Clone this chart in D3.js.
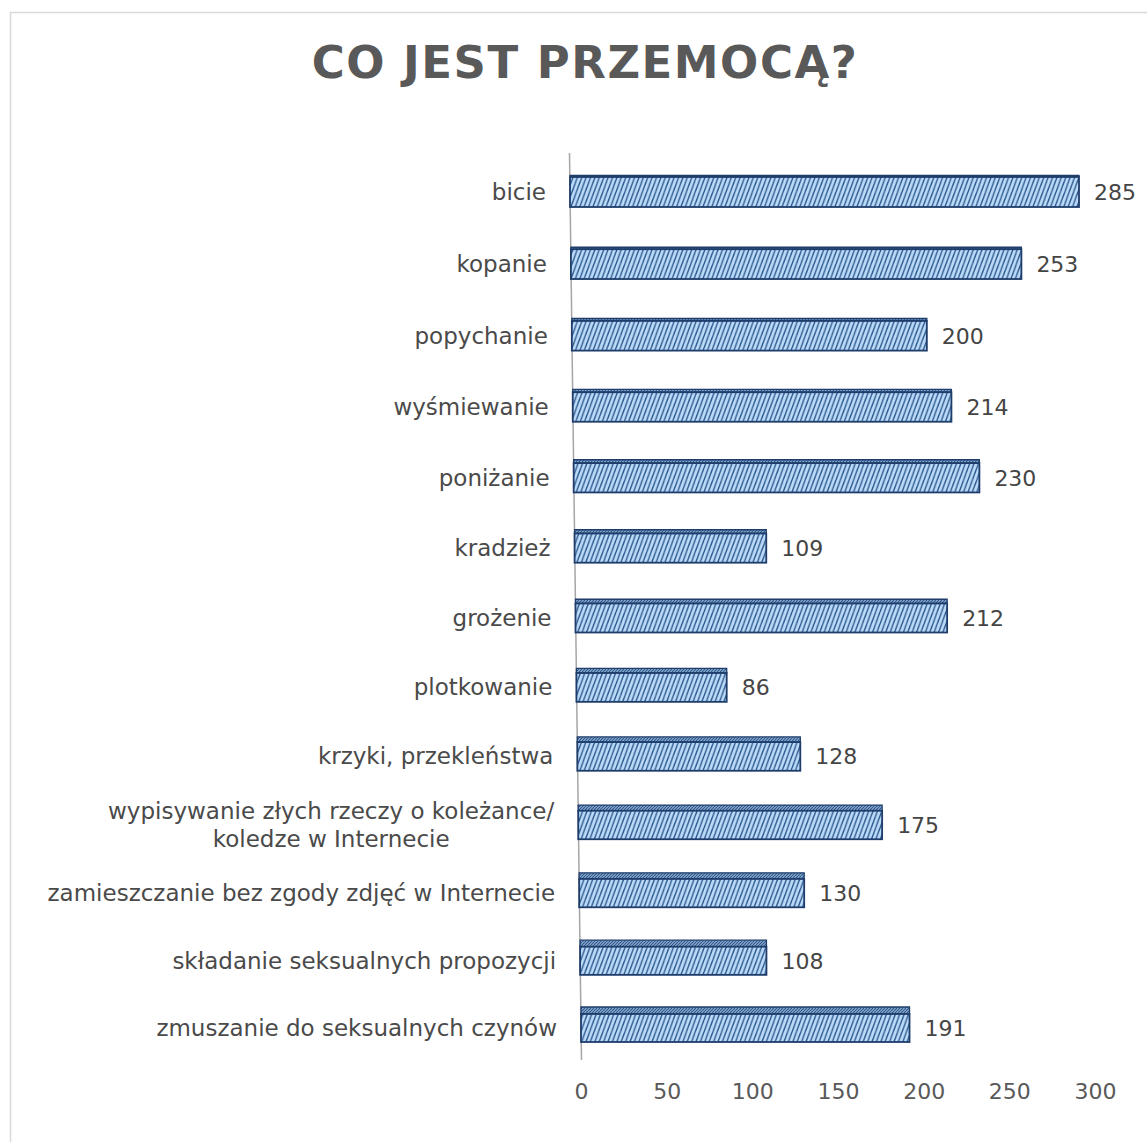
<!DOCTYPE html>
<html>
<head>
<meta charset="utf-8">
<script src="https://cdn.jsdelivr.net/npm/d3@7"></script>
<style>
  html, body { margin: 0; padding: 0; background: #fff; }
  svg { display: block; }
  text { font-family: "DejaVu Sans", sans-serif; }
</style>
</head>
<body>
<svg id="chart"></svg>
<script>
// dane z wykresu
const categories = [
  'bicie', 'kopanie', 'popychanie', 'wyśmiewanie', 'poniżanie', 'kradzież',
  'grożenie', 'plotkowanie', 'krzyki, przekleństwa',
  'wypisywanie złych rzeczy o koleżance/|koledze w Internecie',
  'zamieszczanie bez zgody zdjęć w Internecie',
  'składanie seksualnych propozycji', 'zmuszanie do seksualnych czynów'
];
const values = [285, 253, 200, 214, 230, 109, 212, 86, 128, 175, 130, 108, 191];
const tickValues = [0, 50, 100, 150, 200, 250, 300];
const title = 'CO JEST PRZEMOCĄ?';

const W = 1147, H = 1142;
const svg = d3.select('#chart').attr('width', W).attr('height', H);

// ramka obszaru wykresu
svg.append('rect')
  .attr('x', 10.5).attr('y', 12.5)
  .attr('width', W).attr('height', H)
  .attr('fill', 'none').attr('stroke', '#d9d9d9').attr('stroke-width', 1.5);

// --- wzory kreskowania ---
const defs = svg.append('defs');
function hatch(id, bg, fg, w, h, sw) {
  const p = defs.append('pattern')
    .attr('id', id).attr('patternUnits', 'userSpaceOnUse')
    .attr('width', w).attr('height', h);
  p.append('rect').attr('width', w).attr('height', h).attr('fill', bg);
  [-w, 0, w].forEach(o => {
    p.append('line')
      .attr('x1', o).attr('y1', h).attr('x2', o + w).attr('y2', 0)
      .attr('stroke', fg).attr('stroke-width', sw);
  });
}
hatch('hFront', '#bcdaf9', '#2c5a8e', 4.4, 12, 1.4);
hatch('hTop', '#8fb0d8', '#2c5584', 3, 3, 1.1);

// --- skale ---
const n = categories.length;
const idx = d3.scaleOrdinal().domain(categories).range(d3.range(n));
// perspektywa: wiersze zagęszczają się ku dołowi
const rowLin = d3.scaleLinear().domain([0, n - 1]).range([192, 1028]);
const y = c => { const i = idx(c); return rowLin(i) + 0.222 * i * (n - 1 - i); };
const originAt = d3.scaleLinear().domain([0, n - 1]).range([570, 581]);
const unitAt = d3.scaleLinear().domain([0, n - 1]).range([1.786, 1.72]);
const frontH = d3.scaleLinear().domain([0, n - 1]).range([30, 28]);
const topD = d3.scaleLinear().domain([0, n - 1]).range([1.5, 7]);
const rowScale = i => d3.scaleLinear().domain([0, 300])
  .range([originAt(i), originAt(i) + 300 * unitAt(i)]);
const xAxis = d3.scaleLinear().domain([0, 300]).range([581, 1095]);

// tytuł
svg.append('text')
  .attr('x', 585).attr('y', 78)
  .attr('text-anchor', 'middle')
  .attr('font-size', 45).attr('font-weight', 'bold')
  .attr('letter-spacing', 1.5)
  .attr('fill', '#595959')
  .text(title);

// oś pionowa
svg.append('line')
  .attr('x1', 569.5).attr('y1', 153).attr('x2', 581.5).attr('y2', 1060)
  .attr('stroke', '#a6a6a6').attr('stroke-width', 1.5);

// --- słupki ---
const rows = svg.append('g').selectAll('g')
  .data(categories.map((c, i) => ({ c, v: values[i], i })))
  .enter().append('g');

const fs = 23;
rows.each(function (d) {
  const g = d3.select(this);
  const xs = rowScale(d.i);
  const x0 = xs(0), x1 = xs(d.v);
  const h = frontH(d.i), dep = topD(d.i);
  const yc = y(d.c);
  const yTop = yc - h / 2;

  g.append('path')
    .attr('d', `M${x0},${yTop}L${x1},${yTop}L${x1},${yTop - dep}L${x0},${yTop - dep}Z`)
    .attr('fill', 'url(#hTop)')
    .attr('stroke', '#1f3d6b').attr('stroke-width', 1.3);

  g.append('rect')
    .attr('x', x0).attr('y', yTop)
    .attr('width', x1 - x0).attr('height', h)
    .attr('fill', 'url(#hFront)')
    .attr('stroke', '#1f3d6b').attr('stroke-width', 1.8);

  // wartość
  g.append('text')
    .attr('x', x1 + 15).attr('y', yc + 8)
    .attr('font-size', 22).attr('fill', '#454545')
    .text(d.v);

  // etykieta kategorii
  const lines = d.c.split('|');
  const right = x0 - 24;
  const lab = g.append('text')
    .attr('font-size', fs).attr('fill', '#4a4a4a')
    .attr('text-anchor', 'end')
    .attr('y', yc + 8 - (lines.length - 1) * 14);
  lines.forEach((t, k) => {
    lab.append('tspan').attr('x', right).attr('dy', k ? 28 : 0).text(t);
  });
  if (lines.length > 1) {
    // wyśrodkowanie linii względem siebie
    const spans = lab.selectAll('tspan').nodes();
    const widths = spans.map(s => s.getComputedTextLength());
    const maxW = d3.max(widths);
    spans.forEach((s, k) => {
      d3.select(s).attr('x', right - (maxW - widths[k]) / 2);
    });
  }
});

// oś X
const axisG = svg.append('g')
  .attr('transform', 'translate(0,1099)')
  .call(d3.axisBottom(xAxis).tickValues(tickValues).tickSize(0).tickPadding(0));
axisG.select('.domain').remove();
axisG.selectAll('text')
  .attr('font-size', 22).attr('fill', '#595959')
  .attr('font-family', '"DejaVu Sans", sans-serif')
  .attr('dy', 0);
</script>
</body>
</html>
